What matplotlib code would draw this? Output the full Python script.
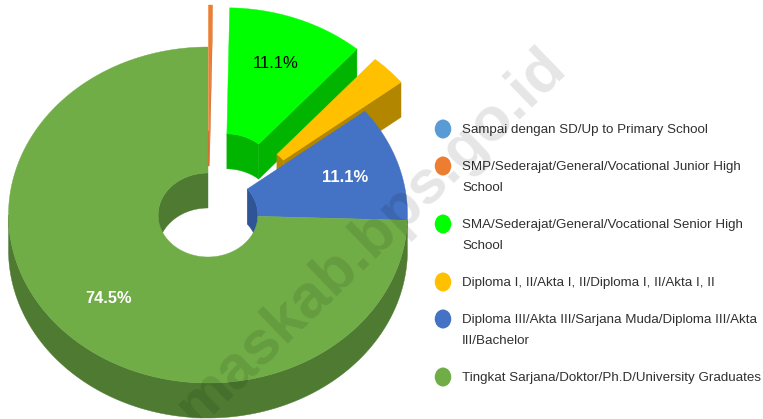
import matplotlib
matplotlib.use("Agg")
import matplotlib.pyplot as plt
from matplotlib.patches import Ellipse
import numpy as np

labels = ["Sampai dengan SD/Up to Primary School",
          "SMP/Sederajat/General/Vocational Junior High\nSchool",
          "SMA/Sederajat/General/Vocational Senior High\nSchool",
          "Diploma I, II/Akta I, II/Diploma I, II/Akta I, II",
          "Diploma III/Akta III/Sarjana Muda/Diploma III/Akta\nIII/Bachelor",
          "Tingkat Sarjana/Doktor/Ph.D/University Graduates"]
values = [0.0, 0.3, 11.1, 3.0, 11.1, 74.5]
explode = [0.25, 0.25, 0.25, 0.25, 0.0, 0.0]
colors = ["#5B9BD5", "#ED7D31", "#00FF00", "#FFC000", "#4472C4", "#70AD47"]
dark = ["#3E6E9C", "#D2702C", "#00B400", "#B38600", "#2F5597", "#4E7A31"]

plt.rcParams['font.family'] = ['Liberation Sans', 'DejaVu Sans']

# pie geometry in pixels
cx, cy = 208, 215
rx, ry = 199.5, 168
hole = 0.25
depth = 35

fig = plt.figure(figsize=(7.63, 4.19), dpi=100)
ax = fig.add_axes([0, 0, 1, 1])
ax.set_xlim(0, 763)
ax.set_ylim(419, 0)
ax.axis('off')


def arc(x0, y0, r, t1, t2):
    t = np.radians(np.linspace(t1, t2, 200))
    return x0 + r * rx * np.sin(t), y0 - r * ry * np.cos(t)


def wall(x0, y0, r, t1, t2, col, z):
    x, y = arc(x0, y0, r, t1, t2)
    ax.fill(np.r_[x, x[::-1]], np.r_[y, y[::-1] + depth], color=col, lw=0.3, zorder=z)


def face(x0, y0, t, col, z):
    x, y = arc(x0, y0, 1, t, t)
    xi, yi = arc(x0, y0, hole, t, t)
    ax.fill([x[0], xi[0], xi[0], x[0]], [y[0], yi[0], yi[0] + depth, y[0] + depth],
            color=col, lw=0.3, zorder=z)


def top(x0, y0, t1, t2, col, z):
    x, y = arc(x0, y0, 1, t1, t2)
    xi, yi = arc(x0, y0, hole, t2, t1)
    ax.fill(np.r_[x, xi], np.r_[y, yi], color=col, lw=0.3, zorder=z)


edges = np.r_[0, np.cumsum(values)] / sum(values) * 360
# painter order: exploded slices at the back, then blue, then the big slice
order = [2, 3, 4, 5, 1]
for z, i in enumerate(order):
    t1, t2 = edges[i], edges[i + 1]
    mid = np.radians((t1 + t2) / 2)
    x0 = cx + explode[i] * rx * np.sin(mid)
    y0 = cy - explode[i] * ry * np.cos(mid)
    base = z * 10 + 2
    if i == 5:
        wall(x0, y0, hole, 270, t2, dark[i], base)
        wall(x0, y0, 1, t1, 270, dark[i], base)
    else:
        wall(x0, y0, hole, t1, t2, dark[i], base)
        if i != 4:
            face(x0, y0, t2, dark[i], base + 1)
    top(x0, y0, t1, t2, colors[i], base + 2)

ax.text(276, 63, f"{values[2]:.1f}%", color="black", fontsize=12, ha='center', va='center', zorder=100)
ax.text(345, 177, f"{values[4]:.1f}%", color="white", fontsize=12, fontweight='bold', ha='center', va='center', zorder=100)
ax.text(108, 298, f"{values[5]:.1f}%", color="white", fontsize=11.8, fontweight='bold', ha='center', va='center', zorder=100)

# legend
y = 129
for lab, col in zip(labels, colors):
    ax.add_patch(Ellipse((443, y), 16.5, 19, color=col, lw=0, zorder=100))
    lines = lab.split("\n")
    for k, line in enumerate(lines):
        ax.text(462, y + 1 + k * 21, line, color="#303030", fontsize=9.6, ha='left', va='center', zorder=100)
    y += 37 + 21 * (len(lines) - 1)

# watermark
ax.text(372, 237, "maskab.bps.go.id", color="black", alpha=0.1, fontsize=44, fontweight='bold',
        rotation=44, rotation_mode='anchor', ha='center', va='center', zorder=200)

fig.savefig("out.png", dpi=100)
